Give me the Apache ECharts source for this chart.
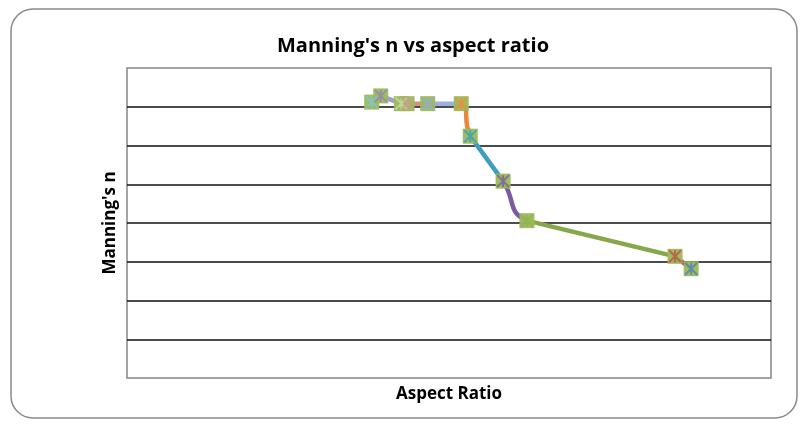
<!DOCTYPE html>
<html>
<head>
<meta charset="utf-8">
<script src="https://cdn.jsdelivr.net/npm/echarts@6/dist/echarts.min.js"></script>
<style>
  html, body { margin: 0; padding: 0; background: #fff; }
  #main { width: 807px; height: 424px; }
</style>
</head>
<body>
<div id="main"></div>
<script>
// points, in drawing order
const aspectRatio = [3.80, 3.94, 4.26, 4.35, 4.67, 5.19, 5.33, 5.84, 6.21, 8.51, 8.76];
const manningN = [0.0356, 0.0364, 0.0354, 0.0354, 0.0354, 0.0354, 0.0312, 0.0254, 0.0203, 0.0157, 0.0141];
// colour of the line leaving each point
const segmentColors = ['#9a9acd', '#a39dd0', '#d6979a', '#d4908f', '#9db0dc', '#e8873e', '#3d9fc0', '#7a5ba0', '#87a84a', '#c0504d'];
// segments that Excel drew as a curve (the rest look straight)
const curvedSegments = [5, 7];
// colour of the star drawn on each marker
const starColors = ['#7fc4da', '#9583b9', '#c8dca6', '#d59a9a', '#95a9de', '#f38c3c', '#3a9fc4', '#7c5ca5', '#8db356', '#c0504d', '#4f81bd'];

const points = aspectRatio.map((x, i) => [x, manningN[i]]);

// colour bands keyed on x; curved segments go in one series, straight in the other
function bands(curved) {
  return segmentColors.map((c, i) => {
    const isCurved = curvedSegments.indexOf(i) >= 0;
    const piece = { gte: aspectRatio[i], color: isCurved === curved ? c : 'rgba(0,0,0,0)' };
    if (i === segmentColors.length - 1) piece.lte = aspectRatio[i + 1];
    else piece.lt = aspectRatio[i + 1];
    return piece;
  });
}

const font = '"Open Sans", "DejaVu Sans", sans-serif';

const chart = echarts.init(document.getElementById('main'));

const option = {
  animation: false,
  graphic: [
    {
      type: 'rect',
      shape: { x: 11, y: 9, width: 786, height: 409, r: 22 },
      style: { fill: 'none', stroke: '#8a8a8a', lineWidth: 1.5 },
      silent: true
    },
    {
      type: 'text',
      x: 413,
      y: 46,
      style: {
        text: "Manning's n vs aspect ratio",
        font: 'bold 20px ' + font,
        fill: '#000',
        align: 'center',
        verticalAlign: 'middle'
      }
    }
  ],
  grid: {
    left: 127,
    right: 36,
    top: 68,
    height: 310,
    show: true,
    borderColor: '#868686',
    borderWidth: 1.5,
    backgroundColor: '#fff'
  },
  xAxis: {
    type: 'value',
    min: 0,
    max: 10,
    name: 'Aspect Ratio',
    nameLocation: 'middle',
    nameGap: 8,
    nameTextStyle: { fontFamily: font, fontSize: 17, fontWeight: 'bold', color: '#000' },
    axisLine: { show: false },
    axisTick: { show: false },
    axisLabel: { show: false },
    splitLine: { show: false }
  },
  yAxis: {
    type: 'value',
    min: 0,
    max: 0.04,
    interval: 0.005,
    name: "Manning's n",
    nameLocation: 'middle',
    nameGap: 8,
    nameTextStyle: { fontFamily: font, fontSize: 17, fontWeight: 'bold', color: '#000' },
    axisLine: { show: false },
    axisTick: { show: false },
    axisLabel: { show: false },
    splitLine: {
      show: true,
      showMinLine: false,
      showMaxLine: false,
      lineStyle: { color: '#111', width: 1.5 }
    }
  },
  visualMap: [
    { show: false, type: 'piecewise', dimension: 0, seriesIndex: 0, pieces: bands(false) },
    { show: false, type: 'piecewise', dimension: 0, seriesIndex: 1, pieces: bands(true) }
  ],
  series: [
    {
      type: 'line',
      data: points,
      showSymbol: false,
      lineStyle: { width: 4.5 },
      z: 2
    },
    {
      type: 'line',
      data: points,
      smooth: 0.5,
      showSymbol: false,
      lineStyle: { width: 4.5 },
      z: 2
    },
    {
      type: 'scatter',
      data: points,
      symbol: 'rect',
      symbolSize: 15,
      itemStyle: { color: '#9bbb59', opacity: 0.95 },
      z: 3
    },
    {
      type: 'scatter',
      data: points.map((p, i) => ({
        value: p,
        itemStyle: { borderColor: starColors[i] }
      })),
      symbol: 'path://M0,0L10,10M10,0L0,10M5,0L5,10',
      symbolSize: 12,
      itemStyle: { color: 'rgba(0,0,0,0)', borderWidth: 2 },
      z: 4
    }
  ]
};

chart.setOption(option);
</script>
</body>
</html>
